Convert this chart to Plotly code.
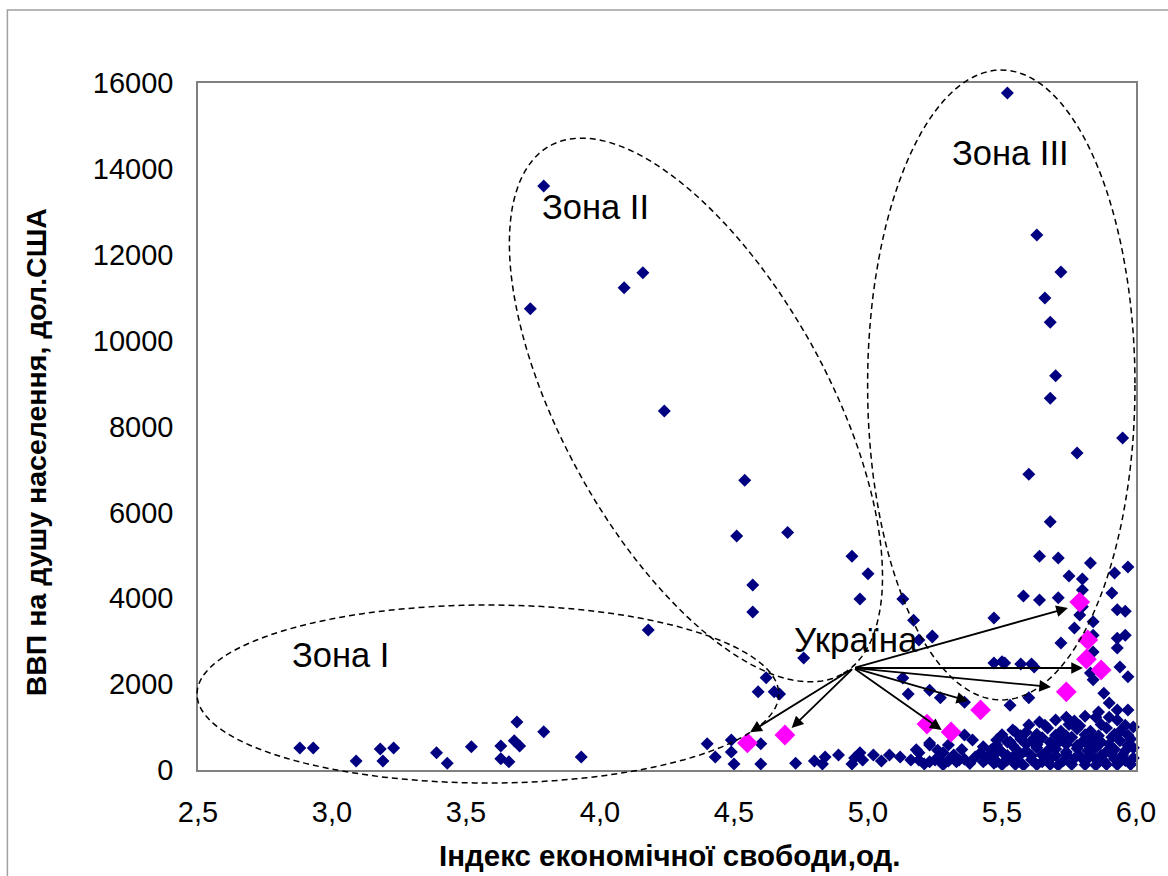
import numpy as np
import plotly.graph_objects as go

# ---------------- data ----------------
navy_x = [
    # zone I
    2.88, 2.93, 3.09, 3.18, 3.19, 3.23, 3.39, 3.43, 3.52, 3.63, 3.63, 3.66, 3.69, 3.68, 3.70, 3.79, 3.93,
    # zone II
    3.79, 3.74, 4.09, 4.16, 4.24, 4.54, 4.51, 4.70, 4.57, 4.57, 4.18, 4.94, 5.00, 4.97, 5.13, 5.17, 5.24,
    5.19, 4.76, 4.62, 4.59, 4.65, 4.67,
    # low band 4.4-5.35
    4.40, 4.43, 4.49, 4.49, 4.50, 4.60, 4.60, 4.73, 4.80, 4.84, 4.83, 4.89, 4.95, 4.97, 4.98, 4.94, 5.02,
    5.05, 5.08, 5.16, 5.19, 5.23, 5.25, 5.28, 5.31, 5.33,
    # zone III upper
    5.52, 5.63, 5.72, 5.66, 5.68, 5.70, 5.68, 5.95, 5.78, 5.60, 5.68,
    # zone III middle
    5.64, 5.71, 5.83, 5.97, 5.92, 5.75, 5.80, 5.80, 5.91, 5.58, 5.64, 5.71, 5.80, 5.93, 5.96, 5.79, 5.47,
    5.84, 5.77, 5.24, 5.84, 5.93, 5.96, 5.72, 5.84, 5.93, 5.47, 5.51, 5.57, 5.61, 5.62, 5.50, 5.94, 5.97,
    5.83, 5.84, 5.13, 5.15, 5.23, 5.27, 5.36, 5.53, 5.60, 5.88, 5.90, 5.93, 5.97, 5.86,
    # dense cluster
    5.64, 5.70, 5.74, 5.77, 5.81, 5.85, 5.90, 5.93,
    5.60, 5.66, 5.75, 5.79, 5.87, 5.96,
    5.54, 5.59, 5.67, 5.72, 5.78, 5.83, 5.89, 5.94, 5.99,
    5.50, 5.57, 5.63, 5.70, 5.74, 5.81, 5.86, 5.92, 5.97,
    5.48, 5.52, 5.57, 5.61, 5.65, 5.68, 5.72, 5.76, 5.80, 5.84, 5.87, 5.91, 5.94, 5.98,
    5.48, 5.54, 5.59, 5.63, 5.70, 5.74, 5.78, 5.82, 5.86, 5.90, 5.97,
    5.46, 5.50, 5.55, 5.59, 5.63, 5.67, 5.70, 5.74, 5.78, 5.82, 5.85, 5.89, 5.92, 5.96, 5.99,
    5.47, 5.52, 5.57, 5.61, 5.65, 5.70, 5.74, 5.79, 5.83, 5.87, 5.91, 5.95,
    5.44, 5.48, 5.52, 5.56, 5.61, 5.65, 5.68, 5.73, 5.77, 5.81, 5.85, 5.88, 5.92, 5.96, 5.99,
    5.50, 5.55, 5.58, 5.63, 5.68, 5.71, 5.76, 5.81, 5.85, 5.89, 5.93, 5.98,
    # lower left of dense cluster
    5.23, 5.18, 5.30, 5.36, 5.39, 5.43, 5.46, 5.53, 5.19, 5.23, 5.27, 5.30, 5.34, 5.43, 5.47, 5.52, 5.54,
    5.55, 5.12, 5.21, 5.26, 5.32, 5.35, 5.40, 5.38, 5.42, 5.28, 5.36,
]
navy_y = [
    510, 510, 210, 490, 210, 510, 400, 160, 540, 560, 260, 190, 1120, 680, 560, 890, 300,
    13600, 10740, 11230, 11580, 8360, 6750, 5450, 5530, 4310, 3680, 3260, 4980, 4570, 3980, 3980, 3490, 3120,
    3030, 2610, 2150, 1820, 1820, 1770,
    610, 300, 700, 420, 140, 610, 140, 160, 210, 300, 140, 350, 280, 400, 230, 140, 350,
    210, 350, 230, 400, 580, 230, 400, 280, 190,
    15770, 12460, 11600, 10990, 10430, 9180, 8660, 7730, 7380, 6890, 5780,
    4980, 4940, 4820, 4730, 4590, 4520, 4450, 4190, 4120, 4050, 3960, 4010, 3800, 3730, 3700, 3610, 3540,
    3450, 3310, 3100, 3140, 3070, 3140, 2960, 2750, 2840, 2490, 2490, 2470, 2470, 2400, 2520, 2400, 2170,
    2260, 2100, 2140, 1770, 1860, 1680, 1580, 1510, 1680, 1790, 1560, 1400, 1400, 1350,
    1120, 1165, 1230, 1140, 1250, 1230, 1230, 1165,
    1050, 1040, 1060, 1030, 1060, 1040,
    930, 880, 980, 900, 960, 900, 980, 900, 1000,
    820, 800, 830, 810, 790, 820, 800, 830, 810,
    700, 650, 720, 680, 750, 640, 700, 760, 660, 720, 650, 760, 680, 720,
    580, 570, 600, 590, 580, 600, 570, 590, 580, 600, 570,
    470, 420, 500, 440, 520, 450, 490, 420, 500, 450, 520, 430, 480, 450, 520,
    350, 340, 360, 330, 350, 340, 360, 330, 350, 340, 360, 350,
    250, 200, 260, 210, 240, 190, 260, 220, 270, 200, 250, 210, 260, 220, 280,
    120, 130, 110, 120, 130, 110, 130, 120, 110, 130, 120, 130,
    630, 470, 580, 815, 700, 540, 400, 650, 230, 190, 230, 210, 230, 190, 160, 230, 300,
    885, 300, 140, 460, 350, 480, 300, 150, 400, 120, 250,
]

# Ukraine (different years)
ukr_x = [4.55, 4.69, 5.22, 5.31, 5.42, 5.74, 5.79, 5.82, 5.815, 5.87]
ukr_y = [630, 815, 1070, 885, 1400, 1820, 3910, 3030, 2580, 2330]

# arrows from the "Україна" label point to the Ukraine markers
ukr_origin_x = 4.946
ukr_origin_y = 2376
arrow_x = [4.56, 4.715, 5.275, 5.374, 5.683, 5.802, 5.746]
arrow_y = [880, 978, 932, 1607, 1933, 2376, 3773]

zone_labels = ["Зона I", "Зона II", "Зона III"]
zone_x = [3.03, 3.985, 5.53]
zone_y = [2680, 13110, 14370]

x_ticks = [2.5, 3.0, 3.5, 4.0, 4.5, 5.0, 5.5, 6.0]
y_ticks = [0, 2000, 4000, 6000, 8000, 10000, 12000, 14000, 16000]

# ---------------- layout geometry ----------------
W, H = 1168, 876
ML, MR, MT, MB = 198, 30, 83, 106
PW, PH = W - ML - MR, H - MT - MB
FONT = "Liberation Sans, Arial, sans-serif"


def px_to_paper(xs, ys):
    return (np.asarray(xs) - ML) / PW, (H - MB - np.asarray(ys)) / PH


def ellipse_path(cx, cy, a, b, ang_deg, n=160):
    t = np.linspace(0, 2 * np.pi, n)
    ang = np.radians(ang_deg)
    xs = cx + a * np.cos(t) * np.cos(ang) - b * np.sin(t) * np.sin(ang)
    ys = cy + a * np.cos(t) * np.sin(ang) + b * np.sin(t) * np.cos(ang)
    xp, yp = px_to_paper(xs, ys)
    return "M " + " L ".join(f"{x:.4f},{y:.4f}" for x, y in zip(xp, yp)) + " Z"


ellipses = [
    (488.5, 694, 291.5, 89, 0),     # zone I
    (697, 410, 302, 133, 61),       # zone II
    (1003, 385, 134, 315, 0),       # zone III
]

fig = go.Figure()

fig.add_trace(go.Scatter(
    x=navy_x, y=navy_y, mode="markers",
    marker=dict(symbol="diamond", size=10, color="#000080", line=dict(width=0)),
    cliponaxis=False, hoverinfo="skip",
))
fig.add_trace(go.Scatter(
    x=ukr_x, y=ukr_y, mode="markers",
    marker=dict(symbol="diamond", size=16, color="#FF00FF", line=dict(width=0)),
    cliponaxis=False, hoverinfo="skip",
))

shapes = []
for (cx, cy, a, b, ang) in ellipses:
    shapes.append(dict(type="path", xref="paper", yref="paper",
                       path=ellipse_path(cx, cy, a, b, ang),
                       line=dict(color="black", width=1.5, dash="6px,4px"),
                       fillcolor="rgba(0,0,0,0)", layer="above"))
# outer chart border (top and left visible)
bx0, by1 = px_to_paper([7], [10])
shapes.append(dict(type="rect", xref="paper", yref="paper",
                   x0=float(bx0[0]), x1=1.2, y0=-0.4, y1=float(by1[0]),
                   line=dict(color="#a0a0a0", width=1.5), layer="below"))

annotations = []
for hx, hy in zip(arrow_x, arrow_y):
    annotations.append(dict(
        x=hx, y=hy, xref="x", yref="y",
        ax=ukr_origin_x, ay=ukr_origin_y, axref="x", ayref="y",
        text="", showarrow=True, arrowhead=2, arrowsize=1.3,
        arrowwidth=1.8, arrowcolor="black", standoff=0, startstandoff=0,
    ))
for lab, lx, ly in zip(zone_labels, zone_x, zone_y):
    annotations.append(dict(x=lx, y=ly, xref="x", yref="y", text=lab,
                            showarrow=False, font=dict(size=34.5, color="black", family=FONT)))
annotations.append(dict(x=4.957, y=3028, xref="x", yref="y", text="Україна",
                        showarrow=False, font=dict(size=35, color="black", family=FONT)))

# axis titles
tx, ty = px_to_paper([671], [855])
annotations.append(dict(x=float(tx[0]), y=float(ty[0]), xref="paper", yref="paper",
                        text="<b>Індекс економічної свободи,од.</b>", showarrow=False,
                        xanchor="center", yanchor="middle",
                        font=dict(size=29.5, color="black", family=FONT)))
vx, vy = px_to_paper([36], [452])
annotations.append(dict(x=float(vx[0]), y=float(vy[0]), xref="paper", yref="paper",
                        text="<b>ВВП на душу населення, дол.США</b>", showarrow=False,
                        textangle=-90, xanchor="center", yanchor="middle",
                        font=dict(size=28.5, color="black", family=FONT)))

fig.update_layout(
    width=W, height=H,
    margin=dict(l=ML, r=MR, t=MT, b=MB, pad=0),
    paper_bgcolor="white", plot_bgcolor="white",
    showlegend=False,
    font=dict(family=FONT, size=29, color="black"),
    shapes=shapes, annotations=annotations,
    xaxis=dict(range=[2.5, 6.0], tickvals=x_ticks,
               ticktext=[f"{v:.1f}".replace(".", ",") for v in x_ticks],
               showline=True, mirror=True, linecolor="#808080", linewidth=1.5,
               showgrid=False, zeroline=False, ticks="", ticklabelstandoff=15,
               tickfont=dict(size=29)),
    yaxis=dict(range=[0, 16000], tickvals=y_ticks,
               ticktext=[str(v) for v in y_ticks],
               showline=True, mirror=True, linecolor="#808080", linewidth=1.5,
               showgrid=False, zeroline=False, ticks="", ticklabelstandoff=17,
               tickfont=dict(size=29)),
)

fig.write_html("out.html", config={"displayModeBar": False},
               post_script="document.body.style.margin='0';")
